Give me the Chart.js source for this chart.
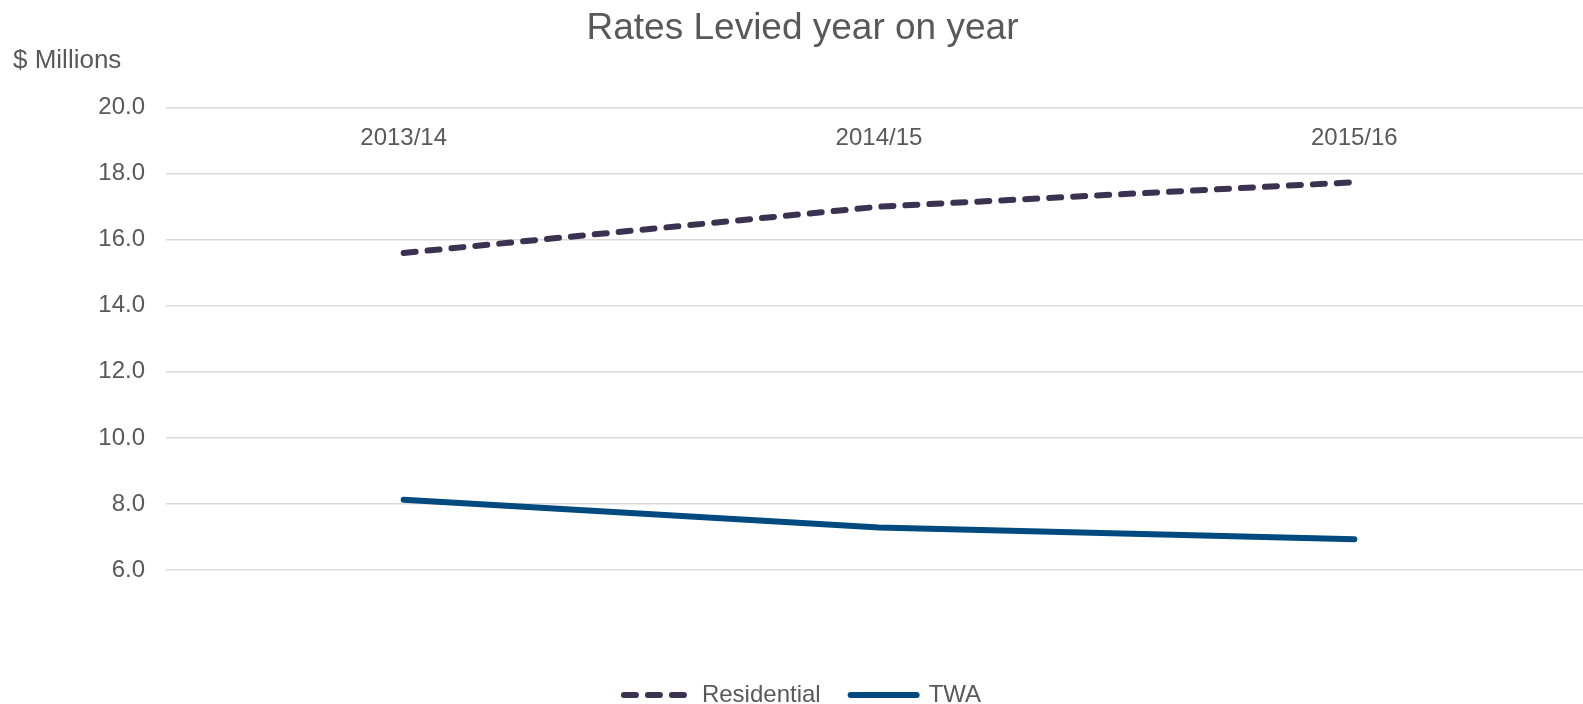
<!DOCTYPE html>
<html lang="en">
<head>
<meta charset="utf-8">
<title>Rates Levied year on year</title>
<script src="https://cdn.jsdelivr.net/npm/chart.js@4.4.1/dist/chart.umd.min.js"></script>
<style>
    html, body { margin: 0; padding: 0; background: #ffffff; overflow: hidden; }
    /* a área do gráfico passa um pouco da borda direita da imagem */
    #grafico { position: relative; width: 1592px; height: 704px; }
</style>
</head>
<body>
<div id="grafico">
    <canvas id="ratesChart"></canvas>
</div>
<script>
// Dados do gráfico
const categorias = ['2013/14', '2014/15', '2015/16'];
const valoresResidencial = [15.6, 17.0, 17.74];
const valoresTWA = [8.13, 7.29, 6.93];
const ticksY = [6, 8, 10, 12, 14, 16, 18, 20];

const corTexto = '#595959';
const fonte = "'Liberation Sans', Arial, sans-serif";
const espessuraLinha = 6;

// Função principal
function main() {
    const ctx = document.getElementById('ratesChart').getContext('2d');
    new Chart(ctx, {
        type: 'line',
        data: {
            labels: categorias,
            datasets: [{
                label: 'Residential',
                data: valoresResidencial,
                borderColor: '#3b3151',
                backgroundColor: '#3b3151',
                borderWidth: espessuraLinha,
                borderDash: [12, 12],
                borderCapStyle: 'round',
                pointRadius: 0,
                tension: 0
            }, {
                label: 'TWA',
                data: valoresTWA,
                borderColor: '#004a80',
                backgroundColor: '#004a80',
                borderWidth: espessuraLinha,
                borderCapStyle: 'round',
                pointRadius: 0,
                tension: 0
            }]
        },
        options: {
            responsive: true,
            maintainAspectRatio: false,
            animation: false,
            layout: {
                padding: { left: 13, right: 0, top: 0, bottom: -13 }
            },
            plugins: {
                title: {
                    display: true,
                    text: 'Rates Levied year on year',
                    color: corTexto,
                    font: { family: fonte, size: 37, weight: 'normal' },
                    padding: { top: 7, bottom: -6 }
                },
                subtitle: {
                    display: true,
                    text: '$ Millions',
                    align: 'start',
                    color: corTexto,
                    font: { family: fonte, size: 26, weight: 'normal' },
                    padding: { top: 0, bottom: 31 }
                },
                legend: {
                    position: 'bottom',
                    title: {
                        display: true,
                        text: '',
                        font: { size: 10 },
                        padding: { top: 71, bottom: 0 }
                    },
                    labels: {
                        usePointStyle: true,
                        pointStyle: 'line',
                        pointStyleWidth: 66,
                        padding: 30,
                        color: corTexto,
                        font: { family: fonte, size: 24 },
                        // o tracejado da série vem do dataset, não do ponto
                        generateLabels: (chart) => {
                            const itens = Chart.defaults.plugins.legend.labels.generateLabels(chart);
                            return itens.map((item) => {
                                const ds = chart.data.datasets[item.datasetIndex];
                                item.lineDash = ds.borderDash || [];
                                item.lineCap = 'round';
                                item.lineWidth = espessuraLinha;
                                return item;
                            });
                        }
                    }
                },
                tooltip: { enabled: false }
            },
            scales: {
                x: {
                    type: 'category',
                    position: 'top',
                    offset: true,
                    grid: { display: false },
                    border: { display: false },
                    ticks: {
                        color: corTexto,
                        font: { family: fonte, size: 24 },
                        mirror: true,
                        padding: 16,
                        maxRotation: 0
                    },
                    // rótulos ficam dentro da área do gráfico
                    afterFit: (scale) => { scale.height = 0; }
                },
                y: {
                    min: ticksY[0],
                    max: ticksY[ticksY.length - 1],
                    grid: {
                        color: '#d9d9d9',
                        lineWidth: 1.5,
                        drawTicks: false
                    },
                    border: { display: false },
                    ticks: {
                        stepSize: ticksY[1] - ticksY[0],
                        color: corTexto,
                        font: { family: fonte, size: 24 },
                        padding: 21,
                        callback: (valor) => valor.toFixed(1)
                    },
                    afterFit: (scale) => { scale.width = 153; }
                }
            }
        }
    });
}

// Chamando a função principal ao carregar a página
document.addEventListener('DOMContentLoaded', main);
</script>
</body>
</html>
